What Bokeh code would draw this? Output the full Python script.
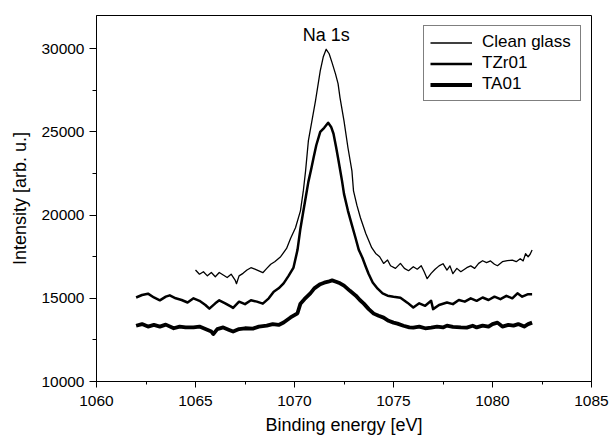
from bokeh.plotting import figure
from bokeh.models import Range1d, SingleIntervalTicker, Label
from bokeh.embed import file_html
from bokeh.resources import INLINE

# ---------------- data ----------------
series_names = ["Clean glass", "TZr01", "TA01"]

clean_x = [1065.0, 1065.2, 1065.4, 1065.6, 1065.8, 1066.0, 1066.2, 1066.4, 1066.6, 1066.8,
           1067.0, 1067.07, 1067.2, 1067.4, 1067.6, 1067.8, 1068.0, 1068.2, 1068.4, 1068.6,
           1068.8, 1069.0, 1069.3, 1069.6, 1069.8, 1070.05, 1070.3, 1070.45, 1070.56, 1070.7,
           1070.9, 1071.06, 1071.3, 1071.45, 1071.6, 1071.75, 1071.9, 1072.07, 1072.2, 1072.3,
           1072.5, 1072.7, 1072.9, 1072.98, 1073.15, 1073.33, 1073.6, 1073.9, 1074.1, 1074.3,
           1074.5, 1074.7, 1074.85, 1075.1, 1075.35, 1075.55, 1075.76, 1076.0, 1076.2, 1076.4,
           1076.55, 1076.7, 1076.9, 1077.1, 1077.3, 1077.5, 1077.7, 1077.85, 1078.0, 1078.2,
           1078.4, 1078.7, 1078.9, 1079.1, 1079.3, 1079.5, 1079.7, 1079.9, 1080.1, 1080.25,
           1080.5, 1080.75, 1081.0, 1081.2, 1081.4, 1081.55, 1081.67, 1081.8, 1081.9, 1082.0]
clean_y = [16700, 16450, 16600, 16350, 16550, 16300, 16550, 16400, 16250, 16450,
           16100, 15880, 16350, 16500, 16700, 16840, 16750, 16650, 16540, 16800,
           17050, 17200, 17500, 18000, 18600, 19240, 20260, 21500, 22660, 24460,
           25800, 26870, 28670, 29500, 29970, 29700, 29150, 28490, 27900, 27050,
           25670, 24050, 22660, 21460, 20600, 19840, 18900, 18040, 17700, 17500,
           17100, 17300, 16960, 16800, 17100, 16800, 16660, 16900, 16750, 16960,
           16600, 16180, 16500, 16750, 16950, 17080, 16700, 16950, 16480, 16800,
           16600, 16840, 16950, 16800, 17100, 17260, 17150, 17250, 17050, 16960,
           17200, 17260, 17300, 17200, 17380, 17250, 17680, 17500, 17650, 17900]

tzr_x = [1062.0, 1062.3, 1062.6, 1062.9, 1063.2, 1063.5, 1063.7, 1064.0, 1064.3, 1064.6,
         1064.9, 1065.2, 1065.5, 1065.7, 1066.0, 1066.2, 1066.5, 1066.8, 1066.9, 1067.2,
         1067.5, 1067.8, 1068.1, 1068.4, 1068.7, 1068.95, 1069.2, 1069.45, 1069.7, 1069.95,
         1070.15, 1070.3, 1070.45, 1070.6, 1070.7, 1070.85, 1070.96, 1071.1, 1071.3, 1071.5,
         1071.7, 1071.85, 1071.97, 1072.1, 1072.2, 1072.4, 1072.5, 1072.7, 1072.9, 1073.08,
         1073.25, 1073.43, 1073.6, 1073.74, 1073.95, 1074.2, 1074.45, 1074.7, 1075.0, 1075.35,
         1075.7, 1076.0, 1076.3, 1076.6, 1076.9, 1077.0, 1077.3, 1077.7, 1078.0, 1078.3,
         1078.6, 1078.9, 1079.2, 1079.5, 1079.8, 1080.1, 1080.4, 1080.7, 1081.0, 1081.26,
         1081.5, 1081.8, 1082.0]
tzr_y = [15050, 15200, 15280, 15050, 14880, 15100, 15180, 15000, 14900, 14750,
         15000, 14850, 14600, 14380, 14700, 14880, 14700, 14500, 14420, 14800,
         14650, 14880, 14800, 14680, 15000, 15400, 15600, 15900, 16350, 16850,
         17900, 19200, 20260, 21300, 22000, 22800, 23440, 24200, 25000, 25250,
         25550, 25300, 24890, 24100, 23440, 22060, 21280, 20260, 19400, 18640,
         17900, 17440, 16900, 16480, 15950, 15580, 15300, 15160, 15100, 15040,
         14740, 14450, 14700, 14550, 14850, 14350, 14600, 14750, 14650, 14900,
         14800, 15000, 14850, 15050, 14900, 15100, 14950, 15150, 15000, 15300,
         15100, 15250, 15250]

ta_x = [1062.0, 1062.3, 1062.6, 1062.9, 1063.2, 1063.5, 1063.9, 1064.2, 1064.5, 1064.9,
        1065.2, 1065.5, 1065.8, 1065.9, 1066.1, 1066.4, 1066.7, 1066.9, 1067.2, 1067.5,
        1067.9, 1068.2, 1068.6, 1068.9, 1069.2, 1069.45, 1069.8, 1070.15, 1070.3, 1070.5,
        1070.8, 1071.0, 1071.3, 1071.5, 1071.7, 1071.9, 1072.1, 1072.3, 1072.5, 1072.8,
        1073.1, 1073.3, 1073.5, 1073.75, 1074.0, 1074.25, 1074.5, 1074.75, 1075.0, 1075.2,
        1075.5, 1075.8, 1076.0, 1076.3, 1076.6, 1076.9, 1077.2, 1077.5, 1077.7, 1078.0,
        1078.4, 1078.7, 1079.0, 1079.2, 1079.5, 1079.8, 1080.0, 1080.25, 1080.5, 1080.8,
        1081.06, 1081.3, 1081.6, 1081.8, 1082.0]
ta_y = [13350, 13450, 13300, 13400, 13300, 13420, 13200, 13300, 13250, 13250,
        13300, 13150, 13000, 12850, 13150, 13250, 13100, 13000, 13150, 13200,
        13180, 13300, 13360, 13450, 13400, 13550, 13850, 14100, 14680, 14950,
        15300, 15600, 15850, 15940, 16000, 16080, 16000, 15900, 15760, 15450,
        15160, 14900, 14680, 14350, 14080, 13950, 13840, 13650, 13540, 13480,
        13350, 13250, 13240, 13300, 13200, 13240, 13300, 13250, 13360, 13280,
        13250, 13240, 13350, 13250, 13360, 13300, 13450, 13540, 13300, 13400,
        13360, 13450, 13300, 13450, 13540]

peak_label = "Na 1s"
x_label = "Binding energy [eV]"
y_label = "Intensity [arb. u.]"

# ---------------- styling ----------------
FONT = "Liberation Sans"
FS_TICK = "15.5px"
FS_AXIS = "18px"
FS_LEG = "17px"

p = figure(width=613, height=437,
           x_range=Range1d(1060, 1085), y_range=Range1d(10000, 32000),
           output_backend="svg", toolbar_location=None,
           min_border_left=96, min_border_right=22, min_border_top=15, min_border_bottom=55,
           background_fill_color="white", border_fill_color="white")

p.xgrid.visible = False
p.ygrid.visible = False
p.outline_line_color = "black"
p.outline_line_width = 1

p.xaxis.ticker = SingleIntervalTicker(interval=5, num_minor_ticks=2)
p.yaxis.ticker = SingleIntervalTicker(interval=5000, num_minor_ticks=2)

for ax in (p.xaxis[0], p.yaxis[0]):
    ax.axis_line_color = "black"
    ax.major_tick_line_color = "black"
    ax.minor_tick_line_color = "black"
    ax.major_tick_in = 0
    ax.minor_tick_in = 0
    ax.major_tick_out = 7
    ax.minor_tick_out = 4
    ax.major_label_text_font = FONT
    ax.major_label_text_font_size = FS_TICK
    ax.major_label_text_color = "black"
    ax.axis_label_text_font = FONT
    ax.axis_label_text_font_size = FS_AXIS
    ax.axis_label_text_font_style = "normal"
    ax.axis_label_text_color = "black"

p.xaxis.major_tick_out = 6
p.xaxis.minor_tick_out = 3
p.xaxis.axis_label = x_label
p.yaxis.axis_label = y_label
p.xaxis.major_label_standoff = 8
p.yaxis.major_label_standoff = 5
p.xaxis.axis_label_standoff = 6
p.yaxis.axis_label_standoff = 8

p.line(clean_x, clean_y, line_color="black", line_width=1.3, line_join="round",
       legend_label=series_names[0])
p.line(tzr_x, tzr_y, line_color="black", line_width=2.5, line_join="round",
       legend_label=series_names[1])
p.line(ta_x, ta_y, line_color="black", line_width=3.8, line_join="round",
       legend_label=series_names[2])

peak_idx = clean_y.index(max(clean_y))
p.add_layout(Label(x=clean_x[peak_idx], y=30850, text=peak_label, text_align="center",
                   text_baseline="alphabetic", text_font=FONT, text_font_size=FS_AXIS,
                   text_color="black"))

lg = p.legend[0]
lg.location = "top_right"
lg.margin = 10
lg.padding = 6
lg.spacing = 1
lg.glyph_width = 42
lg.glyph_height = 15
lg.label_height = 15
lg.label_width = 92
lg.label_standoff = 10
lg.label_text_font = FONT
lg.label_text_font_size = FS_LEG
lg.label_text_color = "black"
lg.border_line_color = "black"
lg.border_line_width = 1
lg.background_fill_color = "white"
lg.background_fill_alpha = 1

open("out.html", "w").write(file_html(p, INLINE))
